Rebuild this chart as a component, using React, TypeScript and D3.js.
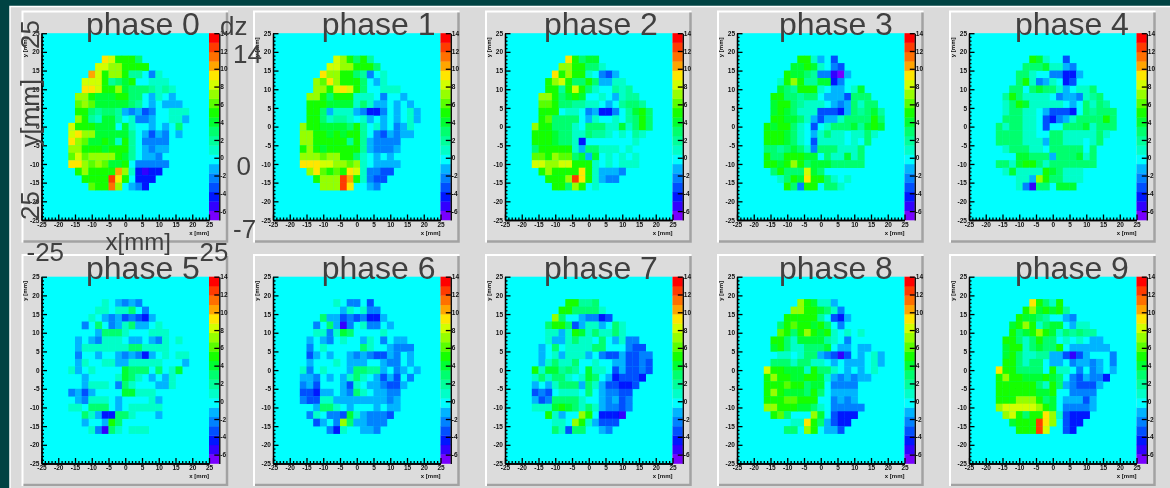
import React, { useEffect, useRef } from 'react'
import * as d3 from 'd3'

// each string is one row of 2mm bins, top row is y = 19..17, '.' is an empty bin
const LEVEL_CHARS = '012345.abcdefghijklm'
const PALETTE = ['#7800ff', '#3200ff', '#0014ff', '#0050ff', '#0082ff', '#00b4ff', '#00ffff', '#00ffc8', '#00ff9b', '#00ff6e', '#00ff32', '#14ff00', '#5aff00', '#96ff00', '#d2ff00', '#ffe600', '#ffa500', '#ff7000', '#ff3a00', '#ff0000']

const PHASE_0 = ['.........iheeec', '........hhggeeee', '.......jheggebb.4a', '......hhhebcde..aaa', '......iiheegdcccbaba', '.....ggedddeecc.5a.5', '.....fgfdddddcb.5.555', '.....eecbccb54534..aaa', '.....gebaddb.a445..aa5', '....heeeddd.da..5.5.c', '....higgdddddb.5354.5', '....igfddedaeb.4444', '....ggeeedeeeb.5455', '....fhfggggedb.554', '....iigfgfdde.44444', '.....egeeeejga2122', '......eeeelie.222', '.......feekg.542']
const PHASE_1 = ['.........hgeceb', '........hhggeeec', '.......iggeecb4.a', '......gfigeeec.5a', '......ggehihec..aaa', '.....ggeceeeaaa.4..5', '.....eeeddddaca55.5.5', '.....eec5aaa54224.5.a5', '.....eecabba.a5.5.5.a5', '....geeddddceb.a5.45a', '....ggeededeeb.435455', '....ggeeeeebeb54444', '....egedeeeeeb54445', '....gggfggeeca.5.5', '....iiihhggfga.5555', '.....gifefeiha4433', '......egggljea433', '.......gggli..54']
const PHASE_2 = ['.........iecdd', '........ggeecca', '.......iegeea.435', '......egheccec55aa', '......eebeheca..bab', '.....ggecded..a.5abb', '.....ffeccbbaa.5.bccb', '.....eee.aa.45224.bdec', '.....efcccc.5a..a.bcec', '....geeccca.cccaadacec', '....eeedccaacbba.a.ba', '....eeedcca2.......a', '....ceeeeea5ccaaa.a', '....ffegffcd5d.a.a.a', '....hhgghheeea.a.aaa', '.....egeeeeiea5554', '......eeegliea544', '.......eecge.a']
const PHASE_3 = ['.........eea5.3', '........ddeda.43', '.......eddcb44105', '......aegebbdd24', '......dcbeeea.55.ad', '.....eeccbcc.5553ccc', '.....deecbaaa.545cacc', '.....dedcaaa33325cbcdb', '.....eeddca5355accccec', '....edeeca.3.acccdbded', '....eeedca.5acaa.aaca', '....eeedca.3aaaa.a.c', '....ccbcdca4cccaaac', '....ecceeedd.caadac', '....eedegecdddccccc', '.....ceccchdc', '......acedieeca.a', '.......ec4ee.cca']
const PHASE_4 = ['.........eda..3', '........cccdaa54', '.......cca..44225', '.......cea45a.23', '......cc.cdcca5.aac', '.....becaaaa.4554abc', '.....acedaaaaa.5.cacb', '.....accaa.53332.cbccc', '.....cccaa.3245accccec', '....caccaa.3..cccdaccc', '....ccccaa..ccaaaaaca', '....ccccaaa5ccaaa.ac', '.....acccaa.ccccc.c', '.......ddccc5cccdac', '....ccadeecaccccccc', '.....adaaaaedcaaa', '.......aa5geccaaa', '.......a41cc.ddd']
const PHASE_5 = ['.........a.5454', '........aa.aac.4', '.......a.54534325', '......4.c.45ac55.a', '........5ccca...aaa', '.....5.54aaa.55.54a.a', '.....5aaaaaaaccaaaa', '.....4..5..545425.a.aa', '.....5a..aa55aaaaa...5', '....a5.a....dccc.c.ad', '......5....adca.5.5a', '......5aaa.4ca...55a', '....4535....ddaaa', '.....54aaa.5....a5', '....aa.ccc.5.aaaaa', '......ca522cca...5', '......5..5ec', '.......a41ca.aaa']
const PHASE_6 = ['.........a.44.3', '..........5a.a44', '.......c553434225', '......4.c514.a44.5', '......aa4adc....a', '.....5.54.a..5a.4.55', '.....4.a.....ca..5444', '.....35.5..54543354.5', '.....5...a.555..544.5', '....a4.a...5ccbb5.45.5', '....554.5.5aca.5353.4', '....453...53a.554335', '....33255.54ca.5544', '....433aa5555555545', '......5cca.5...5.55', '.....4a.443da54443', '......35.4gc55444', '........42a..554']
const PHASE_7 = ['.........eebbc', '........eecccca', '.......gc..54423', '......ceec35aa5.ca', '......aa5aedacaaca', '......a55acaa.c.5a44', '.....5.c.aaaacc...433', '.....5.a5aaa5.43353344', '.....5acaac..a..553343', '....eaddbcb.daa.353343', '....acacca.adc.523332', '....5.5accc5ca533223', '....343.aaa.c.54433', '....534cccca..54534', '....aaadedcaca54434', '......ea5..ge.2221', '.......aa.gea5333', '.......ca3cc..54']
const PHASE_8 = ['.........gedaa5', '........ggeedca4', '.......eeeeeb.325', '......cefeedec.4', '......fecegedea.a.a', '.....eecaddddba.4', '.....decaacccd.55.55', '......aa.acc54313.5.a5', '.....cccaccaa.5.555.a5', '....heedddaecca.5.5.a', '....egeeddeeda545455', '....eeefeecdd.4444', '....egedddcec.5555', '....eeeffeee..4545', '....ggeeeddca.44444', '.....efc...gd.3222', '........aaiec5322', '.......cc.ge.553']
const PHASE_9 = ['.........iecae', '........egdedeb', '.......eddcb..54', '......degeacdd.5aa', '......ecdegedacbcbb', '.....eecacecc.a.a.55', '.....deeacdcce.555555', '.....decaabb553135...4', '.....eecacc.55.45545.4', '....ieecccc.eaa.4.45.5', '....egeedddedc.435442', '....eeeeeecaec543335', '....eeeeeedde..4444', '....eeegggecd.55535', '....ghhhhhged.44445', '.....gheceeiga3222', '......deeelig.322', '.......eeelh..32']
const PHASES = [PHASE_0, PHASE_1, PHASE_2, PHASE_3, PHASE_4, PHASE_5, PHASE_6, PHASE_7, PHASE_8, PHASE_9]

const PANEL_LEFT = [21.5, 253, 485, 717, 949]
const PANEL_TOP = [10.5, 254]
const TITLE_X = [86, 321.7, 544, 779, 1015]
const BIN_EDGES = d3.range(-25, 25, 2)
const DZ_MIN = -7
const DZ_MAX = 14
const FIRST_ROW = 3

const dzOfChar = (c: string) => DZ_MIN + (LEVEL_CHARS.indexOf(c) + 0.5) * (DZ_MAX - DZ_MIN) / LEVEL_CHARS.length

// big labels left over on top of the first panel
const OVERLAY = [
    { t: 'dz', x: 220, y: 35, s: 26 },
    { t: '14', x: 233, y: 63, s: 26 },
    { t: '0', x: 236.5, y: 175, s: 26 },
    { t: '-7', x: 233, y: 238, s: 26 },
    { t: '-25', x: 26.5, y: 260.5, s: 26 },
    { t: '25', x: 199.5, y: 260.5, s: 26 },
    { t: 'x[mm]', x: 105.5, y: 250, s: 24 },
]
const OVERLAY_ROTATED = [
    { t: '25', x: 39, y: 49, s: 26 },
    { t: 'y[mm]', x: 39, y: 147, s: 25 },
    { t: '25', x: 38.5, y: 220, s: 26 },
]

const App = () => {
    const gRef = useRef(null)

    useEffect(() => {
        const root = d3.select(gRef.current)
        root.selectAll('*').remove()
        const color = d3.scaleQuantize<string>().domain([DZ_MIN, DZ_MAX]).range(PALETTE)
        const fmt = (v: any) => String(v)

        PHASES.forEach((rows, i) => {
            const px = PANEL_LEFT[i % 5]
            const py = PANEL_TOP[Math.floor(i / 5)]
            const w = 206.5
            const h = 232
            const g = root.append('g')

            g.append('rect').attr('x', px).attr('y', py).attr('width', w).attr('height', h).attr('fill', '#dcdcdc')
            g.append('path').attr('d', `M${px + 1},${py + h}V${py + 1}H${px + w}`).attr('fill', 'none').attr('stroke', '#fff').attr('stroke-width', 2)
            g.append('path').attr('d', `M${px + w - 1},${py + 2}V${py + h - 1}H${px + 2}`).attr('fill', 'none').attr('stroke', '#a2a2a2').attr('stroke-width', 2.5)

            const x0 = px + 20
            const x1 = px + 187.5
            const y0 = py + 22.7
            const y1 = py + 209.5
            const pal1 = x1 + 10.3
            const x = d3.scaleLinear().domain([-25, 25]).range([x0, x1])
            const y = d3.scaleLinear().domain([25, -25]).range([y0, y1])
            const z = d3.scaleLinear().domain([DZ_MAX, DZ_MIN]).range([y0, y1])

            g.append('rect').attr('x', x0).attr('y', y0).attr('width', x1 - x0).attr('height', y1 - y0).attr('fill', color(0))

            const cells = rows.flatMap((row, r) =>
                row.split('').map((c, k) => ({ c, k, r })).filter((d) => d.c !== '.')
            )
            g.selectAll('.cell')
                .data(cells)
                .join('rect')
                .attr('class', 'cell')
                .attr('x', (d) => x(BIN_EDGES[d.k]))
                .attr('y', (d) => y(BIN_EDGES[24 - d.r - FIRST_ROW] + 2))
                .attr('width', x(2) - x(0) + 0.3)
                .attr('height', y(0) - y(2) + 0.3)
                .attr('fill', (d) => color(dzOfChar(d.c)))

            // palette
            g.selectAll('.lev')
                .data(PALETTE)
                .join('rect')
                .attr('class', 'lev')
                .attr('x', x1)
                .attr('y', (_, k) => z(DZ_MIN + (k + 1) * 1.05))
                .attr('width', pal1 - x1)
                .attr('height', z(0) - z(1.05) + 0.3)
                .attr('fill', (d) => d)

            const majors = d3.range(-25, 26, 5)
            const minors = d3.range(-25, 26, 1).filter((v) => v % 5 !== 0)
            const style = (a: any) => {
                a.selectAll('text').attr('font-family', '"Liberation Sans"').attr('font-size', 6.5).attr('font-weight', 'bold').attr('fill', '#111')
                a.selectAll('path,line').attr('stroke', '#000').attr('stroke-width', 1.3)
            }
            g.append('g').attr('transform', `translate(0,${y1})`)
                .call(d3.axisBottom(x).tickValues(minors).tickSize(-2.5).tickSizeOuter(0).tickFormat(() => ''))
                .call(style)
            g.append('g').attr('transform', `translate(0,${y1})`)
                .call(d3.axisBottom(x).tickValues(majors).tickSize(-5.5).tickSizeOuter(0).tickPadding(2).tickFormat(fmt))
                .call(style)
            g.append('g').attr('transform', `translate(${x0},0)`)
                .call(d3.axisLeft(y).tickValues(minors).tickSize(-2.5).tickSizeOuter(0).tickFormat(() => ''))
                .call(style)
            g.append('g').attr('transform', `translate(${x0},0)`)
                .call(d3.axisLeft(y).tickValues(majors).tickSize(-5.5).tickSizeOuter(0).tickPadding(2).tickFormat(fmt))
                .call(style)
            g.append('g').attr('transform', `translate(${pal1},0)`)
                .call(d3.axisRight(z).tickValues(d3.range(-6, 15, 2)).tickSize(-5).tickSizeOuter(0).tickPadding(1).tickFormat(fmt))
                .call(style)

            g.append('text').text('x [mm]').attr('x', x1).attr('y', y1 + 14.5).attr('text-anchor', 'end')
                .attr('font-family', '"Liberation Sans"').attr('font-size', 6).attr('font-weight', 'bold').attr('fill', '#111')
            g.append('text').text('y [mm]').attr('transform', `translate(${px + 5.5},${y0 + 24}) rotate(-90)`)
                .attr('font-family', '"Liberation Sans"').attr('font-size', 6).attr('font-weight', 'bold').attr('fill', '#111')
            g.append('text').text(`phase ${i}`).attr('x', TITLE_X[i % 5]).attr('y', py + 24.5)
                .attr('font-family', '"Liberation Sans"').attr('font-size', 32).attr('fill', '#404040')
        })

        root.selectAll('.over').data(OVERLAY).join('text').attr('class', 'over')
            .text((d) => d.t).attr('x', (d) => d.x).attr('y', (d) => d.y)
            .attr('font-family', '"Liberation Sans"').attr('font-size', (d) => d.s).attr('fill', '#404040')
        root.selectAll('.overrot').data(OVERLAY_ROTATED).join('text').attr('class', 'overrot')
            .text((d) => d.t).attr('transform', (d) => `translate(${d.x},${d.y}) rotate(-90)`)
            .attr('font-family', '"Liberation Sans"').attr('font-size', (d) => d.s).attr('fill', '#404040')
    }, [])

    return (
        <svg width={1170} height={488} style={{ position: 'absolute', left: 0, top: 0 }}>
            <defs>
                <filter id="soft" x="0" y="0" width="100%" height="100%">
                    <feGaussianBlur stdDeviation="0.55" />
                </filter>
            </defs>
            <rect width={1170} height={488} fill="#004343" />
            <rect x={10} y={6} width={1160} height={482} fill="#dadada" />
            <path d="M10,488V6.5H1170" fill="none" stroke="#fff" strokeWidth={1.5} />
            <g ref={gRef} filter="url(#soft)" />
        </svg>
    )
}

export default App
